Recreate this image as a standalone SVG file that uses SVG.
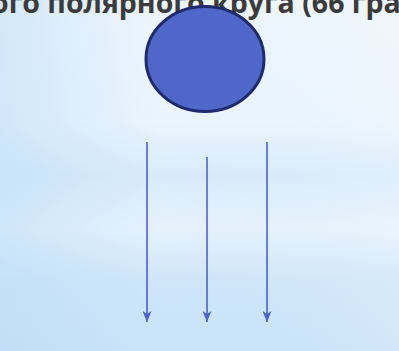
<svg xmlns="http://www.w3.org/2000/svg" width="399" height="351" viewBox="0 0 399 351">
<defs>
<linearGradient id="bg" x1="0" y1="0" x2="0" y2="1">
<stop offset="0" stop-color="#eef6fd"/>
<stop offset="0.35" stop-color="#eaf4fd"/>
<stop offset="0.5" stop-color="#d9ebfa"/>
<stop offset="0.65" stop-color="#e6f2fc"/>
<stop offset="0.8" stop-color="#cfe6f9"/>
<stop offset="1" stop-color="#cae3f8"/>
</linearGradient>
<linearGradient id="side" x1="0" y1="0" x2="1" y2="0">
<stop offset="0" stop-color="#b8dbf7" stop-opacity="0.5"/>
<stop offset="0.4" stop-color="#b8dbf7" stop-opacity="0"/>
<stop offset="1" stop-color="#ffffff" stop-opacity="0.15"/>
</linearGradient>
<marker id="ah" viewBox="0 0 11 9" refX="11" refY="4.5" markerWidth="11" markerHeight="9" markerUnits="userSpaceOnUse" orient="auto">
<path d="M0,0 L11,4.5 L0,9 L3,4.5 Z" fill="#4b63d0"/>
</marker>
<style>
.t{font-family:"Open Sans","DejaVu Sans",sans-serif;font-weight:bold;font-size:28.5px;fill:#3b3b3b}
.ar{stroke:#4b63d0;stroke-width:1.6;fill:none}
</style>
</defs>
<rect width="399" height="351" fill="url(#bg)"/>
<rect width="399" height="351" fill="url(#side)"/>
<g id="title"><text class="t" x="-9" y="12.5">ого полярного круга (66 гра</text></g>
<g id="sun"><ellipse cx="205" cy="59" rx="59" ry="52.5" fill="#4f67c8" stroke="#1d2b6e" stroke-width="3"/></g>
<g id="connectors">
<line class="ar" x1="147" y1="142" x2="147" y2="322" marker-end="url(#ah)"/>
<line class="ar" x1="207" y1="157" x2="207" y2="322" marker-end="url(#ah)"/>
<line class="ar" x1="267" y1="142" x2="267" y2="322" marker-end="url(#ah)"/>
</g>
</svg>
